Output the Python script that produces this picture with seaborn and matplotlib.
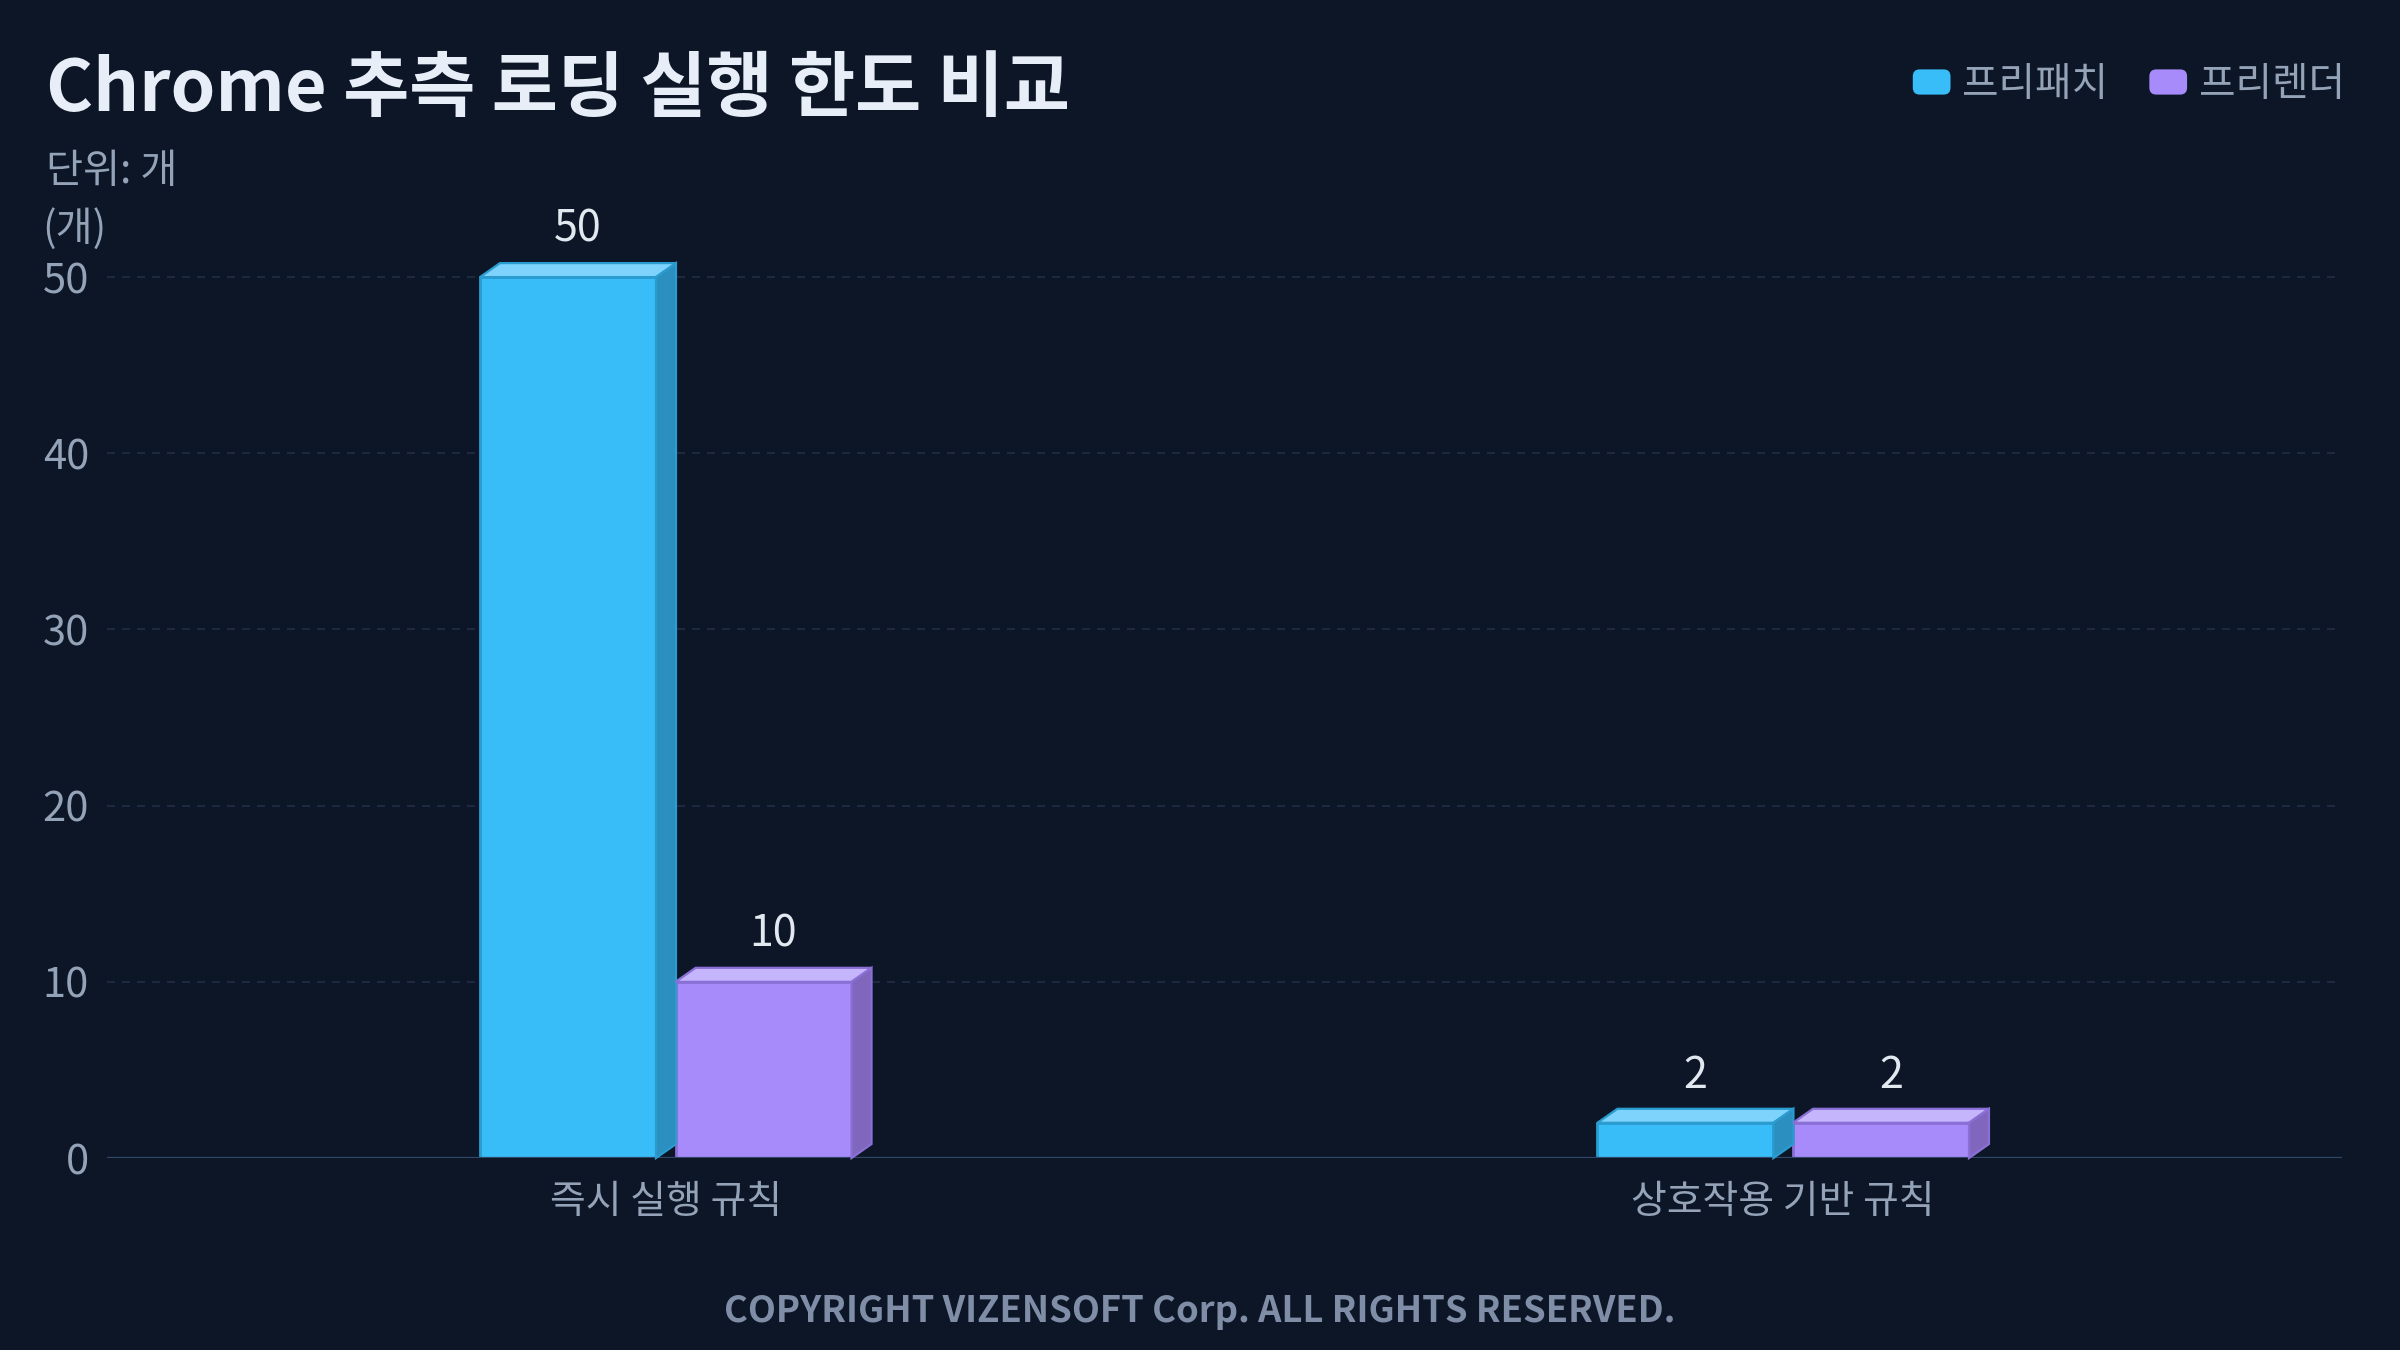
import seaborn as sns
import matplotlib.pyplot as plt
import matplotlib.transforms as mtransforms
from matplotlib.patches import Polygon, FancyBboxPatch, Rectangle
from matplotlib.legend_handler import HandlerPatch
import pandas as pd

# data
categories = ['즉시 실행 규칙', '상호작용 기반 규칙']
series_names = ['프리패치', '프리렌더']
prefetch = [50, 2]
prerender = [10, 2]
y_ticks = [0, 10, 20, 30, 40, 50]

BG = '#0c1627'
front_cols = ['#38bdf8', '#a78bfa']
top_cols = ['#7dd3fc', '#c4b5fd']
side_cols = ['#2b8fbf', '#8067bd']
edge_cols = ['#2a9ccf', '#8a6fd6']
TICK = '#94a3b8'

sns.set_theme(style='dark')
plt.rcParams['font.family'] = ['Noto Sans CJK KR', 'DejaVu Sans']

df = pd.DataFrame({
    'rule': categories * 2,
    'type': [series_names[0]] * 2 + [series_names[1]] * 2,
    'count': prefetch + prerender,
})

fig = plt.figure(figsize=(12, 6.75), dpi=200, facecolor=BG)
ax = fig.add_axes([0.0446, 0.1422, 0.9312, 0.7178])
ax.set_facecolor(BG)

sns.barplot(data=df, x='rule', y='count', hue='type', hue_order=series_names,
            palette=front_cols, saturation=1, width=0.35, gap=0.1, ax=ax,
            legend=False, linewidth=1.0, zorder=3)

ax.set_xlim(-0.5, 1.5)
ax.set_ylim(0, 55)
ax.set_yticks(y_ticks)
ax.set_xlabel('')
ax.set_ylabel('')
for s in ax.spines.values():
    s.set_visible(False)
ax.tick_params(axis='y', colors=TICK, labelsize=15, length=0, pad=6.5)
ax.tick_params(axis='x', colors=TICK, labelsize=14, length=0, pad=8.5)

# dashed grid + solid baseline
for yv in y_ticks[1:]:
    ax.axhline(yv, color='#1f2f47', lw=0.6, ls=(0, (4.8, 4.2)), zorder=1)
ax.axhline(0, color='#31476a', lw=0.8, zorder=5)

# colour edges per series, then fake 3d faces in pixel space
dx, dy = 20, 14
bars = [p for p in ax.patches if isinstance(p, Rectangle)]
fig.canvas.draw()
for i, p in enumerate(bars):
    k = i // len(categories)
    p.set_edgecolor(edge_cols[k])
    x0, y0 = p.get_x(), p.get_y()
    x1, y1 = x0 + p.get_width(), y0 + p.get_height()
    (px0, py0), (px1, py1) = ax.transData.transform([(x0, y0), (x1, y1)])
    top = Polygon([(px0, py1), (px1, py1), (px1 + dx, py1 + dy), (px0 + dx, py1 + dy)],
                  closed=True, facecolor=top_cols[k], edgecolor=edge_cols[k], lw=0.8,
                  transform=mtransforms.IdentityTransform(), zorder=4)
    side = Polygon([(px1, py0), (px1 + dx, py0 + dy), (px1 + dx, py1 + dy), (px1, py1)],
                   closed=True, facecolor=side_cols[k], edgecolor=edge_cols[k], lw=0.8,
                   transform=mtransforms.IdentityTransform(), zorder=4)
    fig.add_artist(top)
    fig.add_artist(side)
    ax.annotate(f'{p.get_height():g}', ((x0 + x1) / 2, y1), xytext=(3.6, 17),
                textcoords='offset points', ha='center', va='center',
                fontsize=15.5, color='#e2e8f0', zorder=6)

# titles
fig.text(46 / 2400, 1 - 90 / 1350, 'Chrome 추측 로딩 실행 한도 비교', fontsize=25.9,
         fontweight='bold', color='#e8eef7', ha='left', va='center')
fig.text(46 / 2400, 1 - 172 / 1350, '단위: 개', fontsize=14.5, color=TICK,
         ha='left', va='center')
fig.text(42 / 2400, 1 - 229 / 1350, '(개)', fontsize=14.5, color=TICK,
         ha='left', va='center')
fig.text(0.5, 1 - 1311 / 1350, 'COPYRIGHT VIZENSOFT Corp. ALL RIGHTS RESERVED.',
         fontsize=13.1, fontweight='bold', color='#7f8ea6', ha='center', va='center')


# legend with rounded swatches
def rounded(legend, orig_handle, xdescent, ydescent, width, height, fontsize):
    return FancyBboxPatch((-xdescent, -ydescent), width, height,
                          boxstyle='round,pad=0,rounding_size=2.5')


handles = [Rectangle((0, 0), 1, 1, facecolor=c, edgecolor='none') for c in front_cols]
leg = fig.legend(handles, series_names, loc='center right',
                 bbox_to_anchor=(2345 / 2400, 1 - 85 / 1350), ncol=2, frameon=False,
                 fontsize=14.3, handlelength=0.95, handleheight=0.6, handletextpad=0.3,
                 columnspacing=1.03, borderaxespad=0, borderpad=0,
                 handler_map={Rectangle: HandlerPatch(patch_func=rounded)})
for t in leg.get_texts():
    t.set_color(TICK)

fig.savefig('out.png', dpi=200, facecolor=BG)
